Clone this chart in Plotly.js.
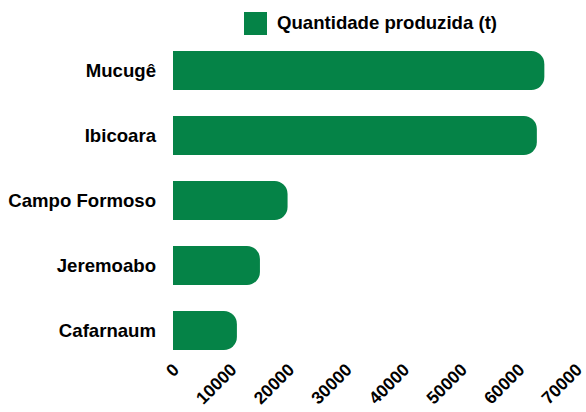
<!DOCTYPE html>
<html>
<head>
<meta charset="utf-8">
<script src="https://cdn.plot.ly/plotly-3.0.1.min.js"></script>
<style>html,body{margin:0;padding:0;background:#fff;}#chart{width:586px;height:412px;}</style>
</head>
<body>
<div id="chart"></div>
<script>
var categories = ["Mucugê", "Ibicoara", "Campo Formoso", "Jeremoabo", "Cafarnaum"];
var quantidade = [64500, 63200, 19900, 15100, 11100];
var seriesName = "Quantidade produzida (t)";
var xTicks = [0, 10000, 20000, 30000, 40000, 50000, 60000, 70000];

var green = "#058347";
var fam = "Liberation Sans, Arial, sans-serif";
var W = 586 - 173 - 10, H = 412 - 38 - 49;

var trace = {
  type: "bar",
  orientation: "h",
  y: categories,
  x: quantidade,
  name: seriesName,
  marker: {color: green, cornerradius: 13},
  showlegend: false
};

var layout = {
  width: 586, height: 412,
  margin: {l: 173, r: 10, t: 38, b: 49, pad: 0},
  paper_bgcolor: "#fff", plot_bgcolor: "#fff",
  bargap: 0.4,
  font: {family: fam, size: 18, color: "#000"},
  xaxis: {
    range: [0, 70000], tickvals: xTicks, ticktext: xTicks.map(String),
    tickangle: -45, showgrid: false, zeroline: false, showline: false,
    ticks: "", ticklabelshift: 1, ticklabelstandoff: -8,
    ticklabeloverflow: "allow",
    tickfont: {family: fam, size: 17.5, color: "#000", weight: "bold"}
  },
  yaxis: {
    autorange: "reversed", showgrid: false, zeroline: false, showline: false,
    ticks: "", ticklabelstandoff: 16,
    tickfont: {family: fam, size: 18.6, color: "#000", weight: "bold"}
  },
  shapes: [{
    type: "rect", xref: "paper", yref: "paper",
    x0: (244 - 173) / W, x1: (267 - 173) / W,
    y0: (363 - 35) / H, y1: (363 - 12) / H,
    fillcolor: green, line: {width: 0}
  }],
  annotations: [{
    text: seriesName, xref: "paper", yref: "paper",
    x: (275 - 173) / W, y: (363 - 23) / H, xanchor: "left", yanchor: "middle",
    showarrow: false,
    font: {family: fam, size: 18.6, color: "#000", weight: "bold"}
  }]
};

Plotly.newPlot("chart", [trace], layout, {displayModeBar: false, staticPlot: true});
</script>
</body>
</html>
